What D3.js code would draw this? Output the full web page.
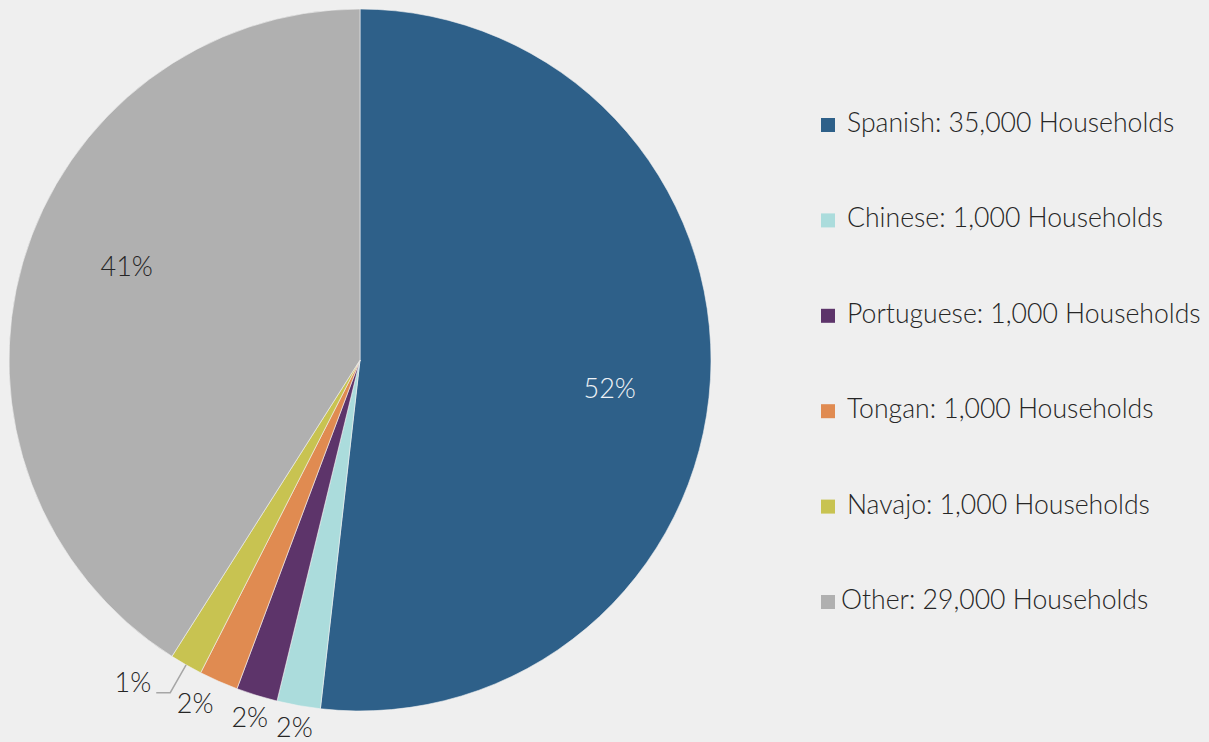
<!DOCTYPE html>
<html>
<head>
<meta charset="utf-8">
<script src="https://cdn.jsdelivr.net/npm/d3@7"></script>
<style>
    html, body { margin: 0; padding: 0; background: #efefef; }
    svg { display: block; font-family: "Lato", "Open Sans", sans-serif; font-weight: 300; }
</style>
</head>
<body>
<div id="canvas"></div>
<script>
"use strict"

/***********************************
 DATA
************************************/
let languages = ["Spanish", "Chinese", "Portuguese", "Tongan", "Navajo", "Other"];
let households = ["35,000", "1,000", "1,000", "1,000", "1,000", "29,000"];
let shares = [51.8, 2.0, 1.9, 1.8, 1.5, 41.0]; // slice size in %
let pctLabels = ["52%", "2%", "2%", "2%", "1%", "41%"];
let colors = ["#2e6089", "#abdcdc", "#5d346a", "#e08b51", "#c8c351", "#b0b0b0"];

/***********************************
 CONFIGURATION VARIABLES
************************************/
let svgWidth = 1209;
let svgHeight = 742;
let cx = 360, cy = 360;
let radius = 351;
let fontSize = 27;
let legendFontSize = 26.6;
let insideSlices = ["Spanish", "Other"];   // labels drawn on the slice
let leaderSlices = ["Navajo"];             // labels pulled out with a leader line
// excel "best fit" placement: [extra degrees, extra radius px]
let labelNudge = { Spanish: [3.2, 0], Other: [5.6, 0], Tongan: [1.8, 7] };

let dataset = languages.map((name, i) => ({
    name: name,
    households: households[i],
    share: shares[i],
    label: pctLabels[i],
    color: colors[i]
}));

/***********************************
 CREATE SVG CANVAS
************************************/
let svg = d3.select("#canvas")
    .append("svg")
    .attr("width", svgWidth)
    .attr("height", svgHeight);

svg.append("rect")
    .attr("width", svgWidth)
    .attr("height", svgHeight)
    .attr("fill", "#efefef");

let g = svg.append("g")
    .attr("transform", `translate(${cx}, ${cy})`);

/***********************************
 PIE
************************************/
let pie = d3.pie()
    .sort(null)
    .value(d => d.share);

let arc = d3.arc()
    .innerRadius(0)
    .outerRadius(radius);

let arcs = pie(dataset);

g.selectAll("path.slice")
    .data(arcs)
    .join("path")
    .attr("class", "slice")
    .attr("d", arc)
    .attr("fill", d => d.data.color)
    .attr("stroke", "#f2f2f2")
    .attr("stroke-width", 0.6);

/***********************************
 PERCENT LABELS
************************************/
function polar(angle, r) {
    return [r * Math.sin(angle), -r * Math.cos(angle)];
}
function midAngle(d) {
    return (d.startAngle + d.endAngle) / 2;
}
function labelPos(d, r) {
    let n = labelNudge[d.data.name] || [0, 0];
    return polar(midAngle(d) + n[0] * Math.PI / 180, r + n[1]);
}

// inside labels
g.selectAll("text.inside")
    .data(arcs.filter(d => insideSlices.includes(d.data.name)))
    .join("text")
    .attr("class", "inside")
    .attr("transform", d => `translate(${labelPos(d, radius * 0.716)})`)
    .attr("dy", "0.36em")
    .attr("text-anchor", "middle")
    .attr("font-size", fontSize)
    .attr("fill", d => d.data.name === "Spanish" ? "#eef2f6" : "#262626")
    .text(d => d.data.label);

// outside labels, placed just off the rim
g.selectAll("text.outside")
    .data(arcs.filter(d => !insideSlices.includes(d.data.name) && !leaderSlices.includes(d.data.name)))
    .join("text")
    .attr("class", "outside")
    .attr("transform", d => `translate(${labelPos(d, radius + 24)})`)
    .attr("dy", "0.3em")
    .attr("text-anchor", "middle")
    .attr("font-size", fontSize)
    .attr("fill", "#262626")
    .text(d => d.data.label);

// leader-line labels
let leaders = arcs.filter(d => leaderSlices.includes(d.data.name));

g.selectAll("polyline.leader")
    .data(leaders)
    .join("polyline")
    .attr("class", "leader")
    .attr("fill", "none")
    .attr("stroke", "#a6a6a6")
    .attr("stroke-width", 1.5)
    .attr("points", d => {
        let p0 = polar(midAngle(d), radius);
        let p1 = polar(midAngle(d), radius + 32);
        let p2 = [p1[0] - 14, p1[1]];
        return [p0, p1, p2].map(p => p.join(",")).join(" ");
    });

g.selectAll("text.leaderLabel")
    .data(leaders)
    .join("text")
    .attr("class", "leaderLabel")
    .attr("x", d => polar(midAngle(d), radius + 32)[0] - 19)
    .attr("y", d => polar(midAngle(d), radius + 32)[1] - 1)
    .attr("text-anchor", "end")
    .attr("font-size", fontSize)
    .attr("fill", "#262626")
    .text(d => d.data.label);

/***********************************
 LEGEND
************************************/
let legendY = d3.scaleLinear()
    .domain([0, dataset.length - 1])
    .range([125, 602]);

let legend = svg.selectAll("g.legend")
    .data(dataset)
    .join("g")
    .attr("class", "legend")
    .attr("transform", (d, i) => `translate(821, ${legendY(i)})`);

legend.append("rect")
    .attr("x", 0)
    .attr("y", -7)
    .attr("width", 14)
    .attr("height", 14)
    .attr("fill", d => d.color);

legend.append("text")
    .attr("x", (d, i) => i === dataset.length - 1 ? 20 : 26)
    .attr("y", 7)
    .attr("font-size", legendFontSize)
    .attr("fill", "#262626")
    .text(d => `${d.name}: ${d.households} Households`);
</script>
</body>
</html>
